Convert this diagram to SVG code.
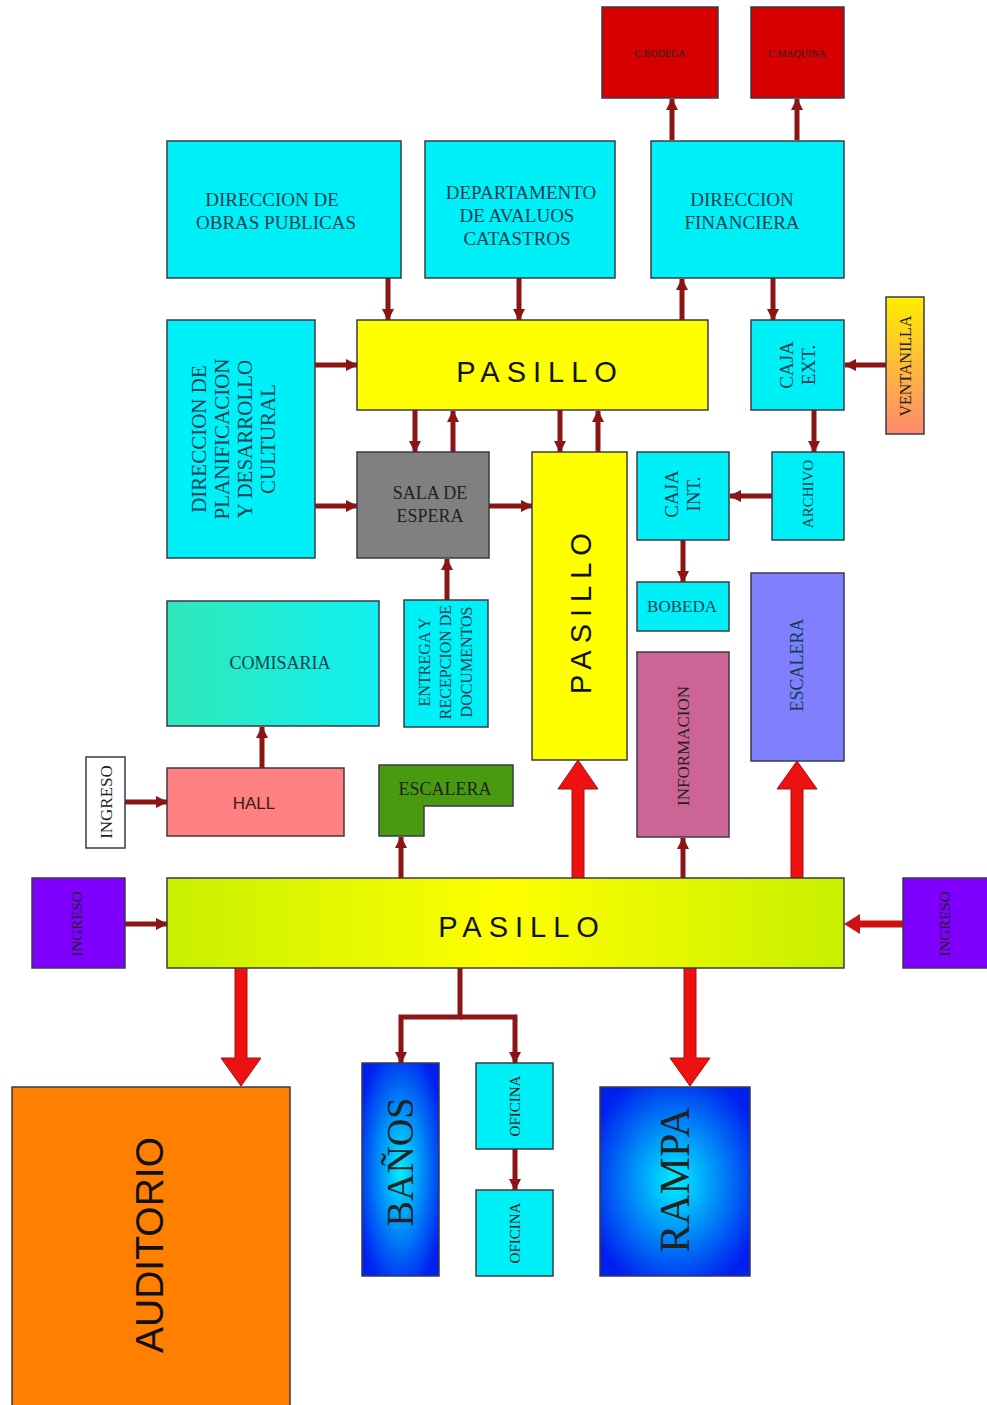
<svg xmlns="http://www.w3.org/2000/svg" width="987" height="1405" viewBox="0 0 987 1405">
<defs>
<style>
.box{stroke:#3a3a4a;stroke-width:1.5}
.cy{fill:#00f0f8}
.t{font-family:"Liberation Serif",serif;text-anchor:middle;fill:#0d3f52}
.tk{font-family:"Liberation Serif",serif;text-anchor:middle;fill:#222}
.ps{font-family:"Liberation Sans",sans-serif;text-anchor:middle;fill:#111;font-size:29px;letter-spacing:7px}
.c{stroke:#8b1414;stroke-width:5;fill:none}
.big{fill:#ee1111;stroke:#a01010;stroke-width:1}
</style>
<marker id="ah" markerWidth="14" markerHeight="14" refX="11" refY="7" orient="auto" markerUnits="userSpaceOnUse">
<path d="M0,1 L12,7 L0,13 Z" fill="#8b1414"/>
</marker>
<linearGradient id="gVent" x1="0" y1="0" x2="0" y2="1">
<stop offset="0" stop-color="#ffee00"/><stop offset="1" stop-color="#ff8870"/>
</linearGradient>
<linearGradient id="gCom" x1="0" y1="0" x2="1" y2="0">
<stop offset="0" stop-color="#30e8b8"/><stop offset="1" stop-color="#10f0f0"/>
</linearGradient>
<linearGradient id="gPas" x1="0" y1="0" x2="1" y2="0">
<stop offset="0" stop-color="#c8f000"/><stop offset="0.5" stop-color="#ffff00"/><stop offset="1" stop-color="#c8f000"/>
</linearGradient>
<radialGradient id="gBlue" cx="0.5" cy="0.5" r="0.6">
<stop offset="0" stop-color="#00f0ff"/><stop offset="1" stop-color="#0020f0"/>
</radialGradient>
</defs>
<rect width="987" height="1405" fill="#fff"/>

<g id="connectors">
<line class="c" x1="672" y1="140" x2="672" y2="99" marker-end="url(#ah)"/>
<line class="c" x1="797" y1="140" x2="797" y2="99" marker-end="url(#ah)"/>
<line class="c" x1="388" y1="278" x2="388" y2="320" marker-end="url(#ah)"/>
<line class="c" x1="519" y1="278" x2="519" y2="320" marker-end="url(#ah)"/>
<line class="c" x1="682" y1="320" x2="682" y2="279" marker-end="url(#ah)"/>
<line class="c" x1="773" y1="278" x2="773" y2="320" marker-end="url(#ah)"/>
<line class="c" x1="315" y1="365" x2="357" y2="365" marker-end="url(#ah)"/>
<line class="c" x1="315" y1="506" x2="357" y2="506" marker-end="url(#ah)"/>
<line class="c" x1="415" y1="410" x2="415" y2="452" marker-end="url(#ah)"/>
<line class="c" x1="453" y1="452" x2="453" y2="411" marker-end="url(#ah)"/>
<line class="c" x1="560" y1="410" x2="560" y2="452" marker-end="url(#ah)"/>
<line class="c" x1="598" y1="452" x2="598" y2="411" marker-end="url(#ah)"/>
<line class="c" x1="489" y1="506" x2="532" y2="506" marker-end="url(#ah)"/>
<line class="c" x1="447" y1="600" x2="447" y2="559" marker-end="url(#ah)"/>
<line class="c" x1="886" y1="365" x2="845" y2="365" marker-end="url(#ah)"/>
<line class="c" x1="814" y1="410" x2="814" y2="452" marker-end="url(#ah)"/>
<line class="c" x1="772" y1="496" x2="730" y2="496" marker-end="url(#ah)"/>
<line class="c" x1="683" y1="540" x2="683" y2="582" marker-end="url(#ah)"/>
<line class="c" x1="262" y1="768" x2="262" y2="727" marker-end="url(#ah)"/>
<line class="c" x1="125" y1="802" x2="167" y2="802" marker-end="url(#ah)"/>
<line class="c" x1="401" y1="878" x2="401" y2="837" marker-end="url(#ah)"/>
<line class="c" x1="683" y1="878" x2="683" y2="838" marker-end="url(#ah)"/>
<line class="c" x1="125" y1="924" x2="167" y2="924" marker-end="url(#ah)"/>
<path d="M903,924 H858" stroke="#d01010" stroke-width="7" fill="none"/>
<polygon points="844,924 860,914 860,934" fill="#d01010"/>
<polyline class="c" points="460,968 460,1017 401,1017 401,1063" marker-end="url(#ah)"/>
<polyline class="c" points="460,1017 515,1017 515,1063" marker-end="url(#ah)"/>
<line class="c" x1="515" y1="1149" x2="515" y2="1190" marker-end="url(#ah)"/>
<polygon class="big" points="572,878 584,878 584,789 598,789 578,760 558,789 572,789"/>
<polygon class="big" points="791,878 803,878 803,789 817,789 797,761 777,789 791,789"/>
<polygon class="big" points="235,968 247,968 247,1058 261,1058 241,1086 221,1058 235,1058"/>
<polygon class="big" points="684,968 696,968 696,1058 710,1058 690,1086 670,1058 684,1058"/>
</g>

<g id="c-bodega"><rect class="box" x="602" y="7" width="116" height="91" fill="#d60000"/><text class="tk" x="660" y="57" font-size="10" fill="#600">C.BODEGA</text></g>
<g id="c-maquina"><rect class="box" x="751" y="7" width="93" height="91" fill="#d60000"/><text class="tk" x="797" y="57" font-size="10" fill="#600">C.MAQUINA</text></g>

<g id="obras"><rect class="box cy" x="167" y="141" width="234" height="137"/><text class="t" font-size="19"><tspan x="272" y="206">DIRECCION DE</tspan><tspan x="276" y="229">OBRAS PUBLICAS</tspan></text></g>
<g id="avaluos"><rect class="box cy" x="425" y="141" width="190" height="137"/><text class="t" font-size="19"><tspan x="521" y="199">DEPARTAMENTO</tspan><tspan x="517" y="222">DE AVALUOS</tspan><tspan x="517" y="245">CATASTROS</tspan></text></g>
<g id="financiera"><rect class="box cy" x="651" y="141" width="193" height="137"/><text class="t" font-size="19"><tspan x="742" y="206">DIRECCION</tspan><tspan x="742" y="229">FINANCIERA</tspan></text></g>

<g id="pasillo-top"><rect class="box" x="357" y="320" width="351" height="90" fill="#ffff00"/><text class="ps" x="540" y="382">PASILLO</text></g>

<g id="planificacion"><rect class="box cy" x="167" y="320" width="148" height="238"/><text class="t" font-size="21" transform="rotate(-90 241 439)"><tspan x="241" y="404">DIRECCION DE</tspan><tspan x="241" y="427">PLANIFICACION</tspan><tspan x="241" y="450">Y DESARROLLO</tspan><tspan x="241" y="473">CULTURAL</tspan></text></g>

<g id="sala-espera"><rect class="box" x="357" y="452" width="132" height="106" fill="#808080"/><text class="tk" font-size="18"><tspan x="430" y="499">SALA DE</tspan><tspan x="430" y="522">ESPERA</tspan></text></g>

<g id="pasillo-v"><rect class="box" x="532" y="452" width="95" height="308" fill="#ffff00"/><text class="ps" transform="rotate(-90 580 610)" x="580" y="621">PASILLO</text></g>

<g id="caja-ext"><rect class="box cy" x="751" y="320" width="93" height="90"/><text class="t" font-size="19" transform="rotate(-90 798 365)"><tspan x="798" y="360">CAJA</tspan><tspan x="798" y="382">EXT.</tspan></text></g>
<g id="ventanilla"><rect class="box" x="886" y="297" width="38" height="137" fill="url(#gVent)"/><text class="tk" font-size="16" transform="rotate(-90 905 366)" x="905" y="372">VENTANILLA</text></g>
<g id="archivo"><rect class="box cy" x="772" y="452" width="72" height="88"/><text class="t" font-size="15" transform="rotate(-90 808 494)" x="808" y="499">ARCHIVO</text></g>
<g id="caja-int"><rect class="box cy" x="637" y="452" width="92" height="88"/><text class="t" font-size="19" transform="rotate(-90 683 494)"><tspan x="683" y="489">CAJA</tspan><tspan x="683" y="511">INT.</tspan></text></g>
<g id="bobeda"><rect class="box cy" x="637" y="582" width="92" height="49"/><text class="t" font-size="17" x="682" y="612">BOBEDA</text></g>

<g id="entrega"><rect class="box cy" x="404" y="600" width="84" height="127"/><text class="t" font-size="16" transform="rotate(-90 446 662)"><tspan x="446" y="646">ENTREGA Y</tspan><tspan x="446" y="667">RECEPCION DE</tspan><tspan x="446" y="688">DOCUMENTOS</tspan></text></g>

<g id="comisaria"><rect class="box" x="167" y="601" width="212" height="125" fill="url(#gCom)"/><text class="t" font-size="18" x="280" y="669">COMISARIA</text></g>

<g id="informacion"><rect class="box" x="637" y="652" width="92" height="185" fill="#cc6496"/><text class="tk" font-size="17" transform="rotate(-90 683 746)" x="683" y="752">INFORMACION</text></g>
<g id="escalera-2"><rect class="box" x="751" y="573" width="93" height="188" fill="#8080ff"/><text class="t" font-size="18" transform="rotate(-90 797 665)" x="797" y="671">ESCALERA</text></g>

<g id="ingreso-1"><rect class="box" x="86" y="757" width="39" height="91" fill="#fff"/><text class="tk" font-size="17" transform="rotate(-90 106 802)" x="106" y="808">INGRESO</text></g>
<g id="hall"><rect class="box" x="167" y="768" width="177" height="68" fill="#ff8080"/><text font-family="Liberation Sans, sans-serif" font-size="17" text-anchor="middle" fill="#3a1a1a" x="254" y="809">HALL</text></g>
<g id="escalera-1"><path class="box" d="M379,765 H513 V806 H424 V836 H379 Z" fill="#4a9a10"/><text class="tk" font-size="18" x="445" y="795">ESCALERA</text></g>

<g id="pasillo-bottom"><rect class="box" x="167" y="878" width="677" height="90" fill="url(#gPas)"/><text class="ps" x="522" y="937">PASILLO</text></g>
<g id="ingreso-2"><rect class="box" x="32" y="878" width="93" height="90" fill="#8000ff"/><text class="tk" font-size="15" fill="#301050" transform="rotate(-90 77 924)" x="77" y="929">INGRESO</text></g>
<g id="ingreso-3"><rect class="box" x="903" y="878" width="90" height="90" fill="#8000ff"/><text class="tk" font-size="15" fill="#301050" transform="rotate(-90 945 924)" x="945" y="929">INGRESO</text></g>

<g id="auditorio"><rect class="box" x="12" y="1087" width="278" height="330" fill="#ff8000"/><text font-family="Liberation Sans, sans-serif" font-size="39" text-anchor="middle" fill="#111" transform="rotate(-90 149 1245)" x="149" y="1259">AUDITORIO</text></g>
<g id="banos"><rect class="box" x="362" y="1063" width="77" height="213" fill="url(#gBlue)"/><text class="tk" font-size="38" transform="rotate(-90 400 1162)" x="400" y="1175">BAÑOS</text></g>
<g id="oficina-1"><rect class="box cy" x="476" y="1063" width="77" height="86"/><text class="tk" font-size="15" transform="rotate(-90 515 1106)" x="515" y="1111">OFICINA</text></g>
<g id="oficina-2"><rect class="box cy" x="476" y="1190" width="77" height="86"/><text class="tk" font-size="15" transform="rotate(-90 515 1233)" x="515" y="1238">OFICINA</text></g>
<g id="rampa"><rect class="box" x="600" y="1087" width="150" height="189" fill="url(#gBlue)"/><text class="tk" font-size="42" transform="rotate(-90 675 1180)" x="675" y="1194">RAMPA</text></g>
</svg>
